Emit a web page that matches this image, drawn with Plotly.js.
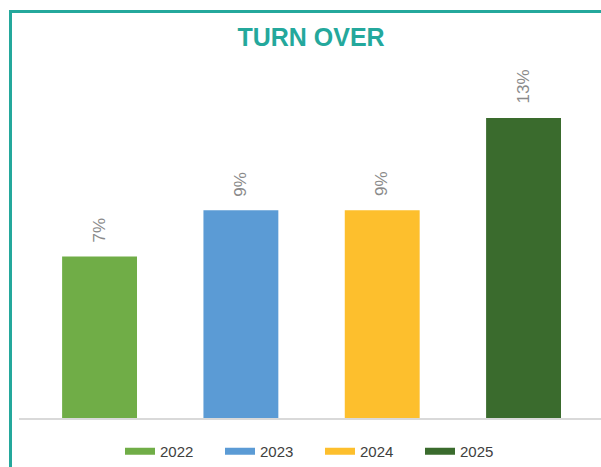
<!DOCTYPE html>
<html>
<head>
<meta charset="utf-8">
<script src="https://cdn.plot.ly/plotly-3.0.1.min.js"></script>
<style>
html,body{margin:0;padding:0;background:#fff;}
#chart{width:601px;height:467px;}
</style>
</head>
<body>
<div id="chart"></div>
<script>
// Data
var years = ['2022', '2023', '2024', '2025'];
var turnover = [7, 9, 9, 13];
var labels = ['7%', '9%', '9%', '13%'];
var colors = ['#70ad47', '#5b9bd5', '#fdbf2d', '#3a6b2d'];

var traces = [];
years.forEach(function (yr, i) {
  traces.push({
    type: 'bar',
    x: [yr],
    y: [turnover[i]],
    name: yr,
    width: 0.53,
    marker: { color: colors[i], line: { width: 0 } },
    showlegend: false,
    hoverinfo: 'skip'
  });
});
// legend entries (wide swatches)
years.forEach(function (yr, i) {
  traces.push({
    type: 'scatter',
    mode: 'lines',
    x: [null],
    y: [null],
    name: yr,
    line: { color: colors[i], width: 7 },
    showlegend: true,
    hoverinfo: 'skip'
  });
});

// category axis: annotation x given as category index
var annotations = years.map(function (yr, i) {
  return {
    x: i, y: turnover[i], xref: 'x', yref: 'y',
    text: labels[i], showarrow: false, textangle: -90,
    xanchor: 'center', yanchor: 'bottom', yshift: 12,
    font: { family: 'Liberation Sans, Arial, sans-serif', size: 17, color: '#8a8a8a' }
  };
});

var teal = '#24a89c';
var L = 19, W = 582, T = 60, H = 358;
function px2x(p) { return (p - L) / W; }
function py2y(p) { return (T + H - p) / H; }

var layout = {
  width: 601, height: 467,
  margin: { l: L, r: 0, t: T, b: 467 - T - H, pad: 0, autoexpand: false },
  paper_bgcolor: '#ffffff',
  plot_bgcolor: '#ffffff',
  barmode: 'overlay',
  title: {
    text: 'TURN OVER',
    font: { family: 'Liberation Sans, Arial, sans-serif', size: 25, color: teal, weight: 'bold' },
    x: px2x(311), xref: 'paper', xanchor: 'center',
    y: 1 - 37 / 467, yref: 'container', yanchor: 'middle'
  },
  xaxis: {
    type: 'category',
    range: [-0.570, 3.548],
    showticklabels: false,
    ticks: '',
    showgrid: false,
    zeroline: false,
    showline: true,
    linecolor: '#d9d9d9',
    linewidth: 2,
    fixedrange: true
  },
  yaxis: {
    range: [0, H / 23.08],
    showticklabels: false,
    showgrid: false,
    zeroline: false,
    showline: false,
    ticks: '',
    fixedrange: true
  },
  showlegend: true,
  legend: {
    orientation: 'h',
    x: px2x(120), xanchor: 'left',
    y: py2y(435), yanchor: 'top',
    font: { family: 'Liberation Sans, Arial, sans-serif', size: 15, color: '#404040' },
    entrywidth: 55,
    bgcolor: 'rgba(0,0,0,0)',
    traceorder: 'normal'
  },
  annotations: annotations,
  shapes: [
    { type: 'line', xref: 'paper', yref: 'paper', x0: px2x(10.5), x1: px2x(601), y0: py2y(11.5), y1: py2y(11.5), line: { color: teal, width: 3 } },
    { type: 'line', xref: 'paper', yref: 'paper', x0: px2x(10.5), x1: px2x(10.5), y0: py2y(10), y1: py2y(467), line: { color: teal, width: 3 } }
  ]
};

Plotly.newPlot('chart', traces, layout, { displayModeBar: false, staticPlot: true });
</script>
</body>
</html>
